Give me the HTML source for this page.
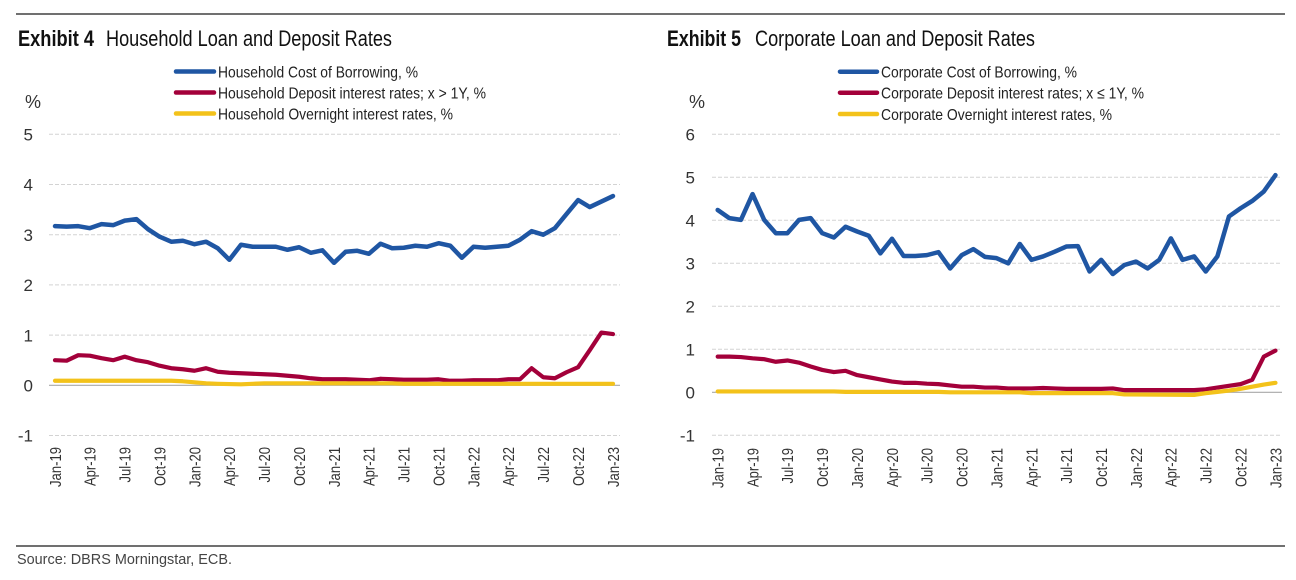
<!DOCTYPE html>
<html>
<head>
<meta charset="utf-8">
<style>
  html,body{margin:0;padding:0;background:#fff;}
  svg{display:block;}
  text{font-family:"Liberation Sans Narrow","Liberation Sans",sans-serif;}
</style>
</head>
<body>
<svg width="1296" height="580" viewBox="0 0 1296 580" xmlns="http://www.w3.org/2000/svg">
  <rect width="1296" height="580" fill="#fff"/>
  <!-- rules -->
  <line x1="16" y1="14" x2="1285" y2="14" stroke="#1a1a1a" stroke-width="1.3"/>
  <line x1="16" y1="546" x2="1285" y2="546" stroke="#1a1a1a" stroke-width="1.3"/>

  <!-- ===== LEFT CHART ===== -->
  <text x="18" y="46" font-size="22" font-weight="bold" fill="#111" textLength="76" lengthAdjust="spacingAndGlyphs">Exhibit 4</text>
  <text x="106" y="46" font-size="22" fill="#111" textLength="286" lengthAdjust="spacingAndGlyphs">Household Loan and Deposit Rates</text>

  <g stroke-width="4.5" stroke-linecap="round">
    <line x1="176" y1="71.5" x2="214" y2="71.5" stroke="#1f56a3"/>
    <line x1="176" y1="92.5" x2="214" y2="92.5" stroke="#a3003a"/>
    <line x1="176" y1="113.5" x2="214" y2="113.5" stroke="#f3c21a"/>
  </g>
  <g font-size="16" fill="#222">
    <text x="218" y="77.5" textLength="200" lengthAdjust="spacingAndGlyphs">Household Cost of Borrowing, %</text>
    <text x="218" y="98.5" textLength="268" lengthAdjust="spacingAndGlyphs">Household Deposit interest rates; x &gt; 1Y, %</text>
    <text x="218" y="119.5" textLength="235" lengthAdjust="spacingAndGlyphs">Household Overnight interest rates, %</text>
  </g>
  <text x="25" y="108" font-size="18" fill="#333">%</text>

  <!-- gridlines left -->
  <g stroke="#d3d3d3" stroke-width="1" stroke-dasharray="4 2">
    <line x1="49" y1="134.3" x2="620" y2="134.3"/>
    <line x1="49" y1="184.5" x2="620" y2="184.5"/>
    <line x1="49" y1="234.7" x2="620" y2="234.7"/>
    <line x1="49" y1="284.9" x2="620" y2="284.9"/>
    <line x1="49" y1="335.1" x2="620" y2="335.1"/>
    <line x1="49" y1="435.5" x2="620" y2="435.5"/>
  </g>
  <line x1="49" y1="385.3" x2="620" y2="385.3" stroke="#a8a8a8" stroke-width="1.2"/>

  <g font-size="17" fill="#333" text-anchor="end">
    <text x="33" y="140.5">5</text>
    <text x="33" y="190.7">4</text>
    <text x="33" y="240.9">3</text>
    <text x="33" y="291.1">2</text>
    <text x="33" y="341.3">1</text>
    <text x="33" y="391.5">0</text>
    <text x="33" y="441.7">-1</text>
  </g>

  <!-- series left -->
  <g transform="translate(55,385.3) scale(11.625,-50.2)" fill="none" stroke-linejoin="round" stroke-linecap="round">
    <polyline vector-effect="non-scaling-stroke" stroke="#1f56a3" stroke-width="4.5" points="0,3.17 1,3.16 2,3.17 3,3.13 4,3.21 5,3.19 6,3.28 7,3.31 8,3.11 9,2.96 10,2.86 11,2.88 12,2.81 13,2.86 14,2.73 15,2.50 16,2.80 17,2.76 18,2.76 19,2.76 20,2.70 21,2.75 22,2.64 23,2.69 24,2.44 25,2.66 26,2.68 27,2.62 28,2.82 29,2.73 30,2.74 31,2.78 32,2.76 33,2.83 34,2.78 35,2.54 36,2.76 37,2.74 38,2.76 39,2.78 40,2.90 41,3.07 42,3.00 43,3.13 44,3.41 45,3.69 46,3.55 47,3.66 48,3.77"/>
    <polyline vector-effect="non-scaling-stroke" stroke="#a3003a" stroke-width="4.2" points="0,0.50 1,0.49 2,0.60 3,0.59 4,0.54 5,0.50 6,0.57 7,0.50 8,0.46 9,0.39 10,0.34 11,0.32 12,0.29 13,0.34 14,0.27 15,0.25 16,0.24 17,0.23 18,0.22 19,0.21 20,0.19 21,0.17 22,0.14 23,0.12 24,0.12 25,0.12 26,0.11 27,0.10 28,0.13 29,0.12 30,0.11 31,0.11 32,0.11 33,0.12 34,0.09 35,0.09 36,0.10 37,0.10 38,0.10 39,0.12 40,0.12 41,0.34 42,0.16 43,0.14 44,0.26 45,0.36 46,0.70 47,1.05 48,1.02"/>
    <polyline vector-effect="non-scaling-stroke" stroke="#f3c21a" stroke-width="4.2" points="0,0.09 10,0.09 11,0.08 12,0.06 13,0.04 14,0.03 16,0.02 17,0.03 18,0.04 29,0.04 30,0.03 48,0.03"/>
  </g>

  <!-- x labels left -->
  <g font-size="16" fill="#333" text-anchor="end">
    <text transform="translate(60.8,447) rotate(-90)" textLength="40" lengthAdjust="spacingAndGlyphs">Jan-19</text>
    <text transform="translate(95.7,447) rotate(-90)" textLength="39" lengthAdjust="spacingAndGlyphs">Apr-19</text>
    <text transform="translate(130.6,447) rotate(-90)" textLength="35.5" lengthAdjust="spacingAndGlyphs">Jul-19</text>
    <text transform="translate(165.4,447) rotate(-90)" textLength="39" lengthAdjust="spacingAndGlyphs">Oct-19</text>
    <text transform="translate(200.3,447) rotate(-90)" textLength="40" lengthAdjust="spacingAndGlyphs">Jan-20</text>
    <text transform="translate(235.2,447) rotate(-90)" textLength="39" lengthAdjust="spacingAndGlyphs">Apr-20</text>
    <text transform="translate(270.1,447) rotate(-90)" textLength="35.5" lengthAdjust="spacingAndGlyphs">Jul-20</text>
    <text transform="translate(304.9,447) rotate(-90)" textLength="39" lengthAdjust="spacingAndGlyphs">Oct-20</text>
    <text transform="translate(339.8,447) rotate(-90)" textLength="40" lengthAdjust="spacingAndGlyphs">Jan-21</text>
    <text transform="translate(374.7,447) rotate(-90)" textLength="39" lengthAdjust="spacingAndGlyphs">Apr-21</text>
    <text transform="translate(409.6,447) rotate(-90)" textLength="35.5" lengthAdjust="spacingAndGlyphs">Jul-21</text>
    <text transform="translate(444.4,447) rotate(-90)" textLength="39" lengthAdjust="spacingAndGlyphs">Oct-21</text>
    <text transform="translate(479.3,447) rotate(-90)" textLength="40" lengthAdjust="spacingAndGlyphs">Jan-22</text>
    <text transform="translate(514.2,447) rotate(-90)" textLength="39" lengthAdjust="spacingAndGlyphs">Apr-22</text>
    <text transform="translate(549.1,447) rotate(-90)" textLength="35.5" lengthAdjust="spacingAndGlyphs">Jul-22</text>
    <text transform="translate(583.9,447) rotate(-90)" textLength="39" lengthAdjust="spacingAndGlyphs">Oct-22</text>
    <text transform="translate(618.8,447) rotate(-90)" textLength="40" lengthAdjust="spacingAndGlyphs">Jan-23</text>
  </g>

  <!-- ===== RIGHT CHART ===== -->
  <text x="667" y="46" font-size="22" font-weight="bold" fill="#111" textLength="74" lengthAdjust="spacingAndGlyphs">Exhibit 5</text>
  <text x="755" y="46" font-size="22" fill="#111" textLength="280" lengthAdjust="spacingAndGlyphs">Corporate Loan and Deposit Rates</text>

  <g stroke-width="4.5" stroke-linecap="round">
    <line x1="840" y1="71.7" x2="877" y2="71.7" stroke="#1f56a3"/>
    <line x1="840" y1="92.7" x2="877" y2="92.7" stroke="#a3003a"/>
    <line x1="840" y1="114" x2="877" y2="114" stroke="#f3c21a"/>
  </g>
  <g font-size="16" fill="#222">
    <text x="881" y="77.7" textLength="196" lengthAdjust="spacingAndGlyphs">Corporate Cost of Borrowing, %</text>
    <text x="881" y="98.7" textLength="263" lengthAdjust="spacingAndGlyphs">Corporate Deposit interest rates; x ≤ 1Y, %</text>
    <text x="881" y="120" textLength="231" lengthAdjust="spacingAndGlyphs">Corporate Overnight interest rates, %</text>
  </g>
  <text x="689" y="108" font-size="18" fill="#333">%</text>

  <!-- gridlines right -->
  <g stroke="#d3d3d3" stroke-width="1" stroke-dasharray="4 2">
    <line x1="712" y1="134.3" x2="1282" y2="134.3"/>
    <line x1="712" y1="177.3" x2="1282" y2="177.3"/>
    <line x1="712" y1="220.3" x2="1282" y2="220.3"/>
    <line x1="712" y1="263.3" x2="1282" y2="263.3"/>
    <line x1="712" y1="306.3" x2="1282" y2="306.3"/>
    <line x1="712" y1="349.3" x2="1282" y2="349.3"/>
    <line x1="712" y1="435.3" x2="1282" y2="435.3"/>
  </g>
  <line x1="712" y1="392.3" x2="1282" y2="392.3" stroke="#a8a8a8" stroke-width="1.2"/>

  <g font-size="17" fill="#333" text-anchor="end">
    <text x="695" y="140.5">6</text>
    <text x="695" y="183.5">5</text>
    <text x="695" y="226.5">4</text>
    <text x="695" y="269.5">3</text>
    <text x="695" y="312.5">2</text>
    <text x="695" y="355.5">1</text>
    <text x="695" y="398.5">0</text>
    <text x="695" y="441.5">-1</text>
  </g>

  <!-- series right -->
  <g transform="translate(717.7,392.3) scale(11.62,-43)" fill="none" stroke-linejoin="round" stroke-linecap="round">
    <polyline vector-effect="non-scaling-stroke" stroke="#1f56a3" stroke-width="4.5" points="0,4.24 1,4.05 2,4.01 3,4.61 4,4.01 5,3.70 6,3.70 7,4.01 8,4.05 9,3.70 10,3.60 11,3.85 12,3.74 13,3.64 14,3.23 15,3.57 16,3.17 17,3.17 18,3.19 19,3.26 20,2.88 21,3.19 22,3.33 23,3.15 24,3.12 25,3.00 26,3.45 27,3.08 28,3.16 29,3.27 30,3.39 31,3.40 32,2.81 33,3.08 34,2.75 35,2.96 36,3.04 37,2.88 38,3.08 39,3.58 40,3.08 41,3.16 42,2.81 43,3.16 44,4.09 45,4.28 46,4.45 47,4.67 48,5.05"/>
    <polyline vector-effect="non-scaling-stroke" stroke="#a3003a" stroke-width="4.2" points="0,0.83 1,0.83 2,0.82 3,0.79 4,0.77 5,0.71 6,0.74 7,0.69 8,0.60 9,0.52 10,0.47 11,0.50 12,0.40 13,0.35 14,0.30 15,0.25 16,0.22 17,0.22 18,0.20 19,0.19 20,0.16 21,0.13 22,0.13 23,0.11 24,0.11 25,0.09 26,0.09 27,0.09 28,0.10 29,0.09 30,0.08 31,0.08 32,0.08 33,0.08 34,0.09 35,0.05 36,0.05 37,0.05 38,0.05 39,0.05 40,0.05 41,0.05 42,0.07 43,0.11 44,0.15 45,0.19 46,0.29 47,0.83 48,0.97"/>
    <polyline vector-effect="non-scaling-stroke" stroke="#f3c21a" stroke-width="4.2" points="0,0.02 10,0.02 11,0.01 19,0.01 20,0.0 26,0.0 27,-0.02 34,-0.02 35,-0.05 41,-0.06 42,-0.02 43,0.01 44,0.04 45,0.08 46,0.13 47,0.18 48,0.22"/>
  </g>

  <!-- x labels right -->
  <g font-size="16" fill="#333" text-anchor="end">
    <text transform="translate(723.5,448) rotate(-90)" textLength="40" lengthAdjust="spacingAndGlyphs">Jan-19</text>
    <text transform="translate(758.4,448) rotate(-90)" textLength="39" lengthAdjust="spacingAndGlyphs">Apr-19</text>
    <text transform="translate(793.2,448) rotate(-90)" textLength="35.5" lengthAdjust="spacingAndGlyphs">Jul-19</text>
    <text transform="translate(828.1,448) rotate(-90)" textLength="39" lengthAdjust="spacingAndGlyphs">Oct-19</text>
    <text transform="translate(863.0,448) rotate(-90)" textLength="40" lengthAdjust="spacingAndGlyphs">Jan-20</text>
    <text transform="translate(897.8,448) rotate(-90)" textLength="39" lengthAdjust="spacingAndGlyphs">Apr-20</text>
    <text transform="translate(932.7,448) rotate(-90)" textLength="35.5" lengthAdjust="spacingAndGlyphs">Jul-20</text>
    <text transform="translate(967.5,448) rotate(-90)" textLength="39" lengthAdjust="spacingAndGlyphs">Oct-20</text>
    <text transform="translate(1002.4,448) rotate(-90)" textLength="40" lengthAdjust="spacingAndGlyphs">Jan-21</text>
    <text transform="translate(1037.3,448) rotate(-90)" textLength="39" lengthAdjust="spacingAndGlyphs">Apr-21</text>
    <text transform="translate(1072.1,448) rotate(-90)" textLength="35.5" lengthAdjust="spacingAndGlyphs">Jul-21</text>
    <text transform="translate(1107.0,448) rotate(-90)" textLength="39" lengthAdjust="spacingAndGlyphs">Oct-21</text>
    <text transform="translate(1141.9,448) rotate(-90)" textLength="40" lengthAdjust="spacingAndGlyphs">Jan-22</text>
    <text transform="translate(1176.7,448) rotate(-90)" textLength="39" lengthAdjust="spacingAndGlyphs">Apr-22</text>
    <text transform="translate(1211.6,448) rotate(-90)" textLength="35.5" lengthAdjust="spacingAndGlyphs">Jul-22</text>
    <text transform="translate(1246.4,448) rotate(-90)" textLength="39" lengthAdjust="spacingAndGlyphs">Oct-22</text>
    <text transform="translate(1281.3,448) rotate(-90)" textLength="40" lengthAdjust="spacingAndGlyphs">Jan-23</text>
  </g>

  <!-- source -->
  <text x="17" y="564" font-size="15" fill="#444" textLength="215" lengthAdjust="spacingAndGlyphs">Source: DBRS Morningstar, ECB.</text>
</svg>
</body>
</html>
